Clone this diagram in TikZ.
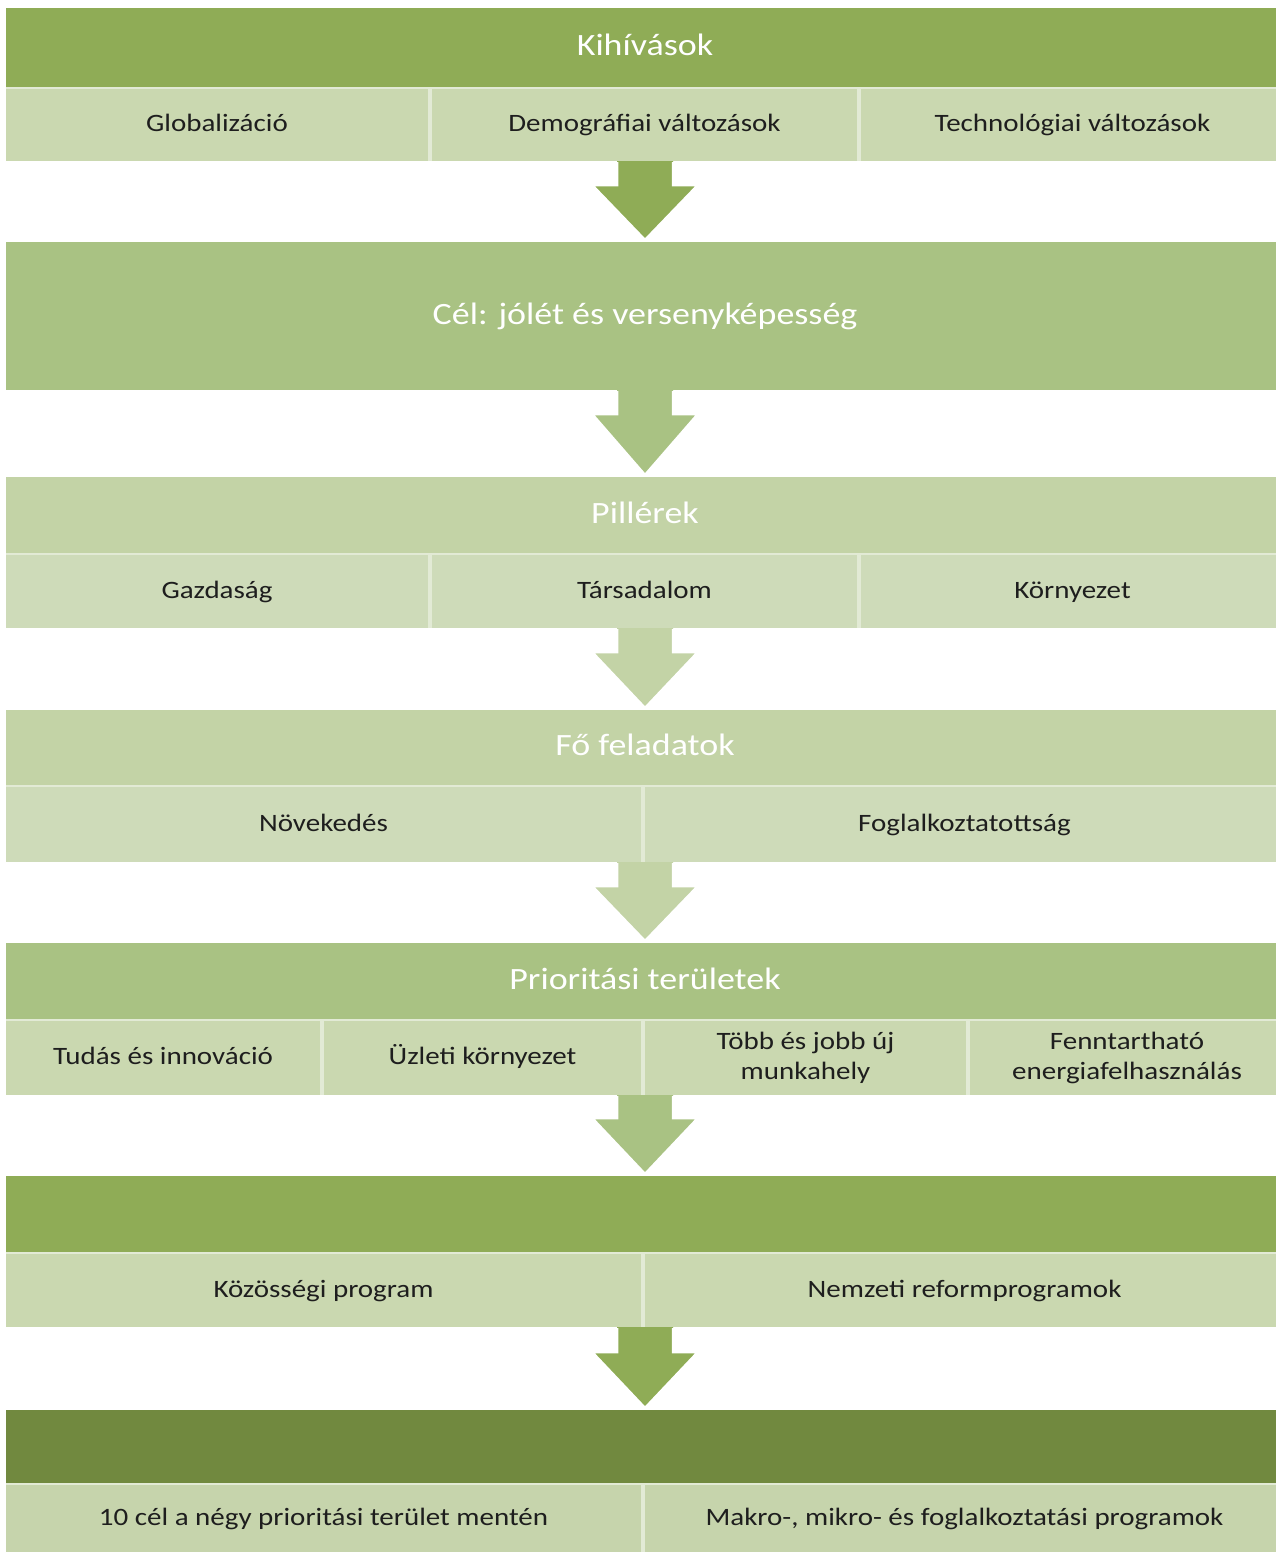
\documentclass[tikz,border=0pt]{standalone}
\usepackage{fontspec}
\setmainfont{Carlito}[FakeStretch=1.16]
\usetikzlibrary{calc}
\definecolor{gA}{HTML}{8FAC56}
\definecolor{gB}{HTML}{A9C283}
\definecolor{gC}{HTML}{C3D3A6}
\definecolor{gD}{HTML}{71893F}
\definecolor{sA}{HTML}{CAD8B0}
\definecolor{sB}{HTML}{CEDBB9}
\definecolor{sC}{HTML}{C6D4AC}
\definecolor{gap}{HTML}{E2EAD5}
\definecolor{txt}{HTML}{1E1E1E}
\newcommand{\hsh}[1]{\hspace*{8pt}#1}
\begin{document}
\begin{tikzpicture}[x=1pt,y=-1pt,
  cellbase/.style={anchor=north west, inner sep=0pt, outer sep=0pt, align=center,
    text=txt, font=\fontsize{25}{30}\selectfont},
  box/.style={cellbase, text height=18pt, text depth=5pt},
  hdr/.style={cellbase, text=white, font=\fontsize{31}{36}\selectfont, text height=22pt, text depth=6pt},
  band/.style={anchor=north west, inner sep=0pt, outer sep=0pt, fill=gap, minimum width=1270pt},
  glow/.style={draw=white, line width=2.5pt, line join=miter}]
\useasboundingbox[fill=white] (0,0) rectangle (1276,1552);

% ---------- band backgrounds ----------
\node[band, minimum height=153pt] (bg1) at (6,8) {};
\node[band, minimum height=148pt] (bg2) at (6,242) {};
\node[band, minimum height=151pt] (bg3) at (6,477) {};
\node[band, minimum height=152pt] (bg4) at (6,710) {};
\node[band, minimum height=152pt] (bg5) at (6,943) {};
\node[band, minimum height=151pt] (bg6) at (6,1176) {};
\node[band, minimum height=142pt] (bg7) at (6,1410) {};

% ---------- band 1 ----------
\node[hdr, fill=gA, minimum width=1270pt, minimum height=79pt] (h1) at (6,8) {\hsh{Kihívások}};
\node[box, fill=sA, minimum width=422pt, minimum height=72pt] (s1a) at (6,89) {Globalizáció};
\node[box, fill=sA, minimum width=425pt, minimum height=72pt] (s1b) at (432,89) {Demográfiai változások};
\node[box, fill=sA, minimum width=415pt, minimum height=72pt] (s1c) at (861,89) {\hsh{Technológiai változások}};

% ---------- band 2 ----------
\node[hdr, fill=gB, minimum width=1270pt, minimum height=148pt] (h2) at (6,242) {\hsh{Cél: jólét és versenyképesség}};

% ---------- band 3 ----------
\node[hdr, fill=gC, minimum width=1270pt, minimum height=76pt] (h3) at (6,477) {\hsh{Pillérek}};
\node[box, fill=sB, minimum width=422pt, minimum height=73pt] (s3a) at (6,555) {Gazdaság};
\node[box, fill=sB, minimum width=425pt, minimum height=73pt] (s3b) at (432,555) {Társadalom};
\node[box, fill=sB, minimum width=415pt, minimum height=73pt] (s3c) at (861,555) {\hsh{Környezet}};

% ---------- band 4 ----------
\node[hdr, fill=gC, minimum width=1270pt, minimum height=75pt] (h4) at (6,710) {\hsh{Fő feladatok}};
\node[box, fill=sB, minimum width=635pt, minimum height=75pt] (s4a) at (6,787) {Növekedés};
\node[box, fill=sB, minimum width=631pt, minimum height=75pt] (s4b) at (645,787) {\hsh{Foglalkoztatottság}};

% ---------- band 5 ----------
\node[hdr, fill=gB, minimum width=1270pt, minimum height=76pt] (h5) at (6,943) {\hsh{Prioritási területek}};
\node[box, fill=sA, minimum width=314pt, minimum height=74pt] (s5a) at (6,1021) {Tudás és innováció};
\node[box, fill=sA, minimum width=317pt, minimum height=74pt] (s5b) at (324,1021) {Üzleti környezet};
\node[cellbase, fill=sA, minimum width=321pt, minimum height=74pt] (s5c) at (645,1021) {Több és jobb új\\munkahely};
\node[cellbase, fill=sA, minimum width=306pt, minimum height=74pt] (s5d) at (970,1021) {\hsh{Fenntartható}\\\hsh{energiafelhasználás}};

% ---------- band 6 ----------
\node[hdr, fill=gA, minimum width=1270pt, minimum height=76pt] (h6) at (6,1176) {};
\node[box, fill=sA, minimum width=635pt, minimum height=73pt] (s6a) at (6,1254) {Közösségi program};
\node[box, fill=sA, minimum width=631pt, minimum height=73pt] (s6b) at (645,1254) {\hsh{Nemzeti reformprogramok}};

% ---------- band 7 ----------
\node[hdr, fill=gD, minimum width=1270pt, minimum height=73pt] (h7) at (6,1410) {};
\node[box, fill=sC, minimum width=635pt, minimum height=67pt] (s7a) at (6,1485) {10 cél a négy prioritási terület mentén};
\node[box, fill=sC, minimum width=631pt, minimum height=67pt] (s7b) at (645,1485) {\hsh{Makro-, mikro- és foglalkoztatási programok}};

% ---------- arrows ----------
\foreach \a/\b/\c/\hd in {bg1/bg2/gA/24, bg2/bg3/gB/24, bg3/bg4/gC/24, bg4/bg5/gC/24, bg5/bg6/gB/23, bg6/bg7/gA/25}{
  \coordinate (t) at ($(\a.south)+(4,0)$);
  \coordinate (tip) at ($(\b.north)+(4,-2)$);
  \fill[\c] ($(t)+(-28,0)$) -- ($(t)+(-28,\hd)$) -- ($(t)+(-53,\hd)$) -- (tip)
     -- ($(t)+(53,\hd)$) -- ($(t)+(28,\hd)$) -- ($(t)+(28,0)$) -- cycle;
  \draw[glow] ($(t)+(-28,1.2)$) -- ($(t)+(-28,\hd)$) -- ($(t)+(-53,\hd)$) -- (tip)
     -- ($(t)+(53,\hd)$) -- ($(t)+(28,\hd)$) -- ($(t)+(28,1.2)$);
}
\end{tikzpicture}
\end{document}
